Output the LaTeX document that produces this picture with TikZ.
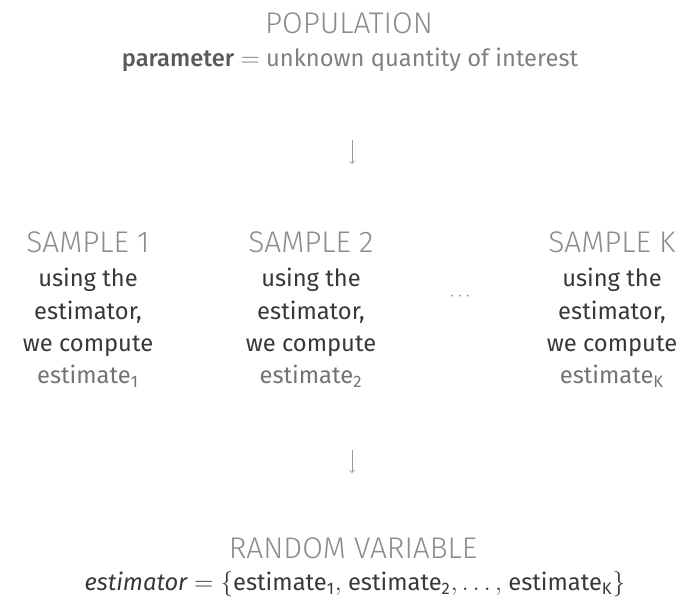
\documentclass[tikz,border=0pt]{standalone}
\usepackage{fontspec}
\setmainfont{Fira Sans}
\newfontfamily\thinfont{Fira Sans Light}
\newfontfamily\midfont{Fira Sans Medium}
\usetikzlibrary{arrows}
\usetikzlibrary{positioning}
\begin{document}
\begin{tikzpicture}[every node/.style={inner sep=0pt,align=center},
  head/.style={text=black!45,font=\thinfont\fontsize{17}{20}\selectfont},
  body/.style={text=black!78,font=\fontsize{13.5}{18.4}\selectfont},
  down/.style={->,thin,black!40}]
\useasboundingbox (0,0) rectangle (13.7,-12.14);
  \node (pop) at (6.98,-0.47)[head]{POPULATION};
  \node (par) at (7.0,-1.2)[body,text=black!50]{{\color{black!65}\midfont parameter} $=$ unknown quantity of interest};
  \coordinate (a1) at (7.04,-2.8);
  \coordinate[below =0.48cm of a1](a2);
  \node (s1) at (1.76,-4.84)[head]{SAMPLE 1};
  \node (s2) at (6.22,-4.84)[head]{SAMPLE 2};
  \node (sk) at (12.24,-4.84)[head]{SAMPLE K};
  \node[below =0.3cm of s1,body](b1){using the\\estimator,\\we compute\\{\color{black!55}estimate\textsubscript{1}}};
  \node[below =0.3cm of s2,body](b2){using the\\estimator,\\we compute\\{\color{black!55}estimate\textsubscript{2}}};
  \node[below =0.3cm of sk,body](bk){using the\\estimator,\\we compute\\{\color{black!55}estimate\textsubscript{K}}};
  \node (dots) at (9.2,-5.94)[text=black!45]{$\cdots$};
  \coordinate (a3) at (7.04,-9.0);
  \coordinate[below =0.46cm of a3](a4);
  \node (rv) at (7.06,-10.96)[head]{RANDOM VARIABLE};
  \node (est) at (7.1,-11.68)[body]{\textit{estimator} $=\{$estimate\textsubscript{1}$,$ estimate\textsubscript{2}$,\ldots,$ estimate\textsubscript{K}$\}$};
  \draw[down](a1)--(a2);
  \draw[down](a3)--(a4);
\end{tikzpicture}
\end{document}
